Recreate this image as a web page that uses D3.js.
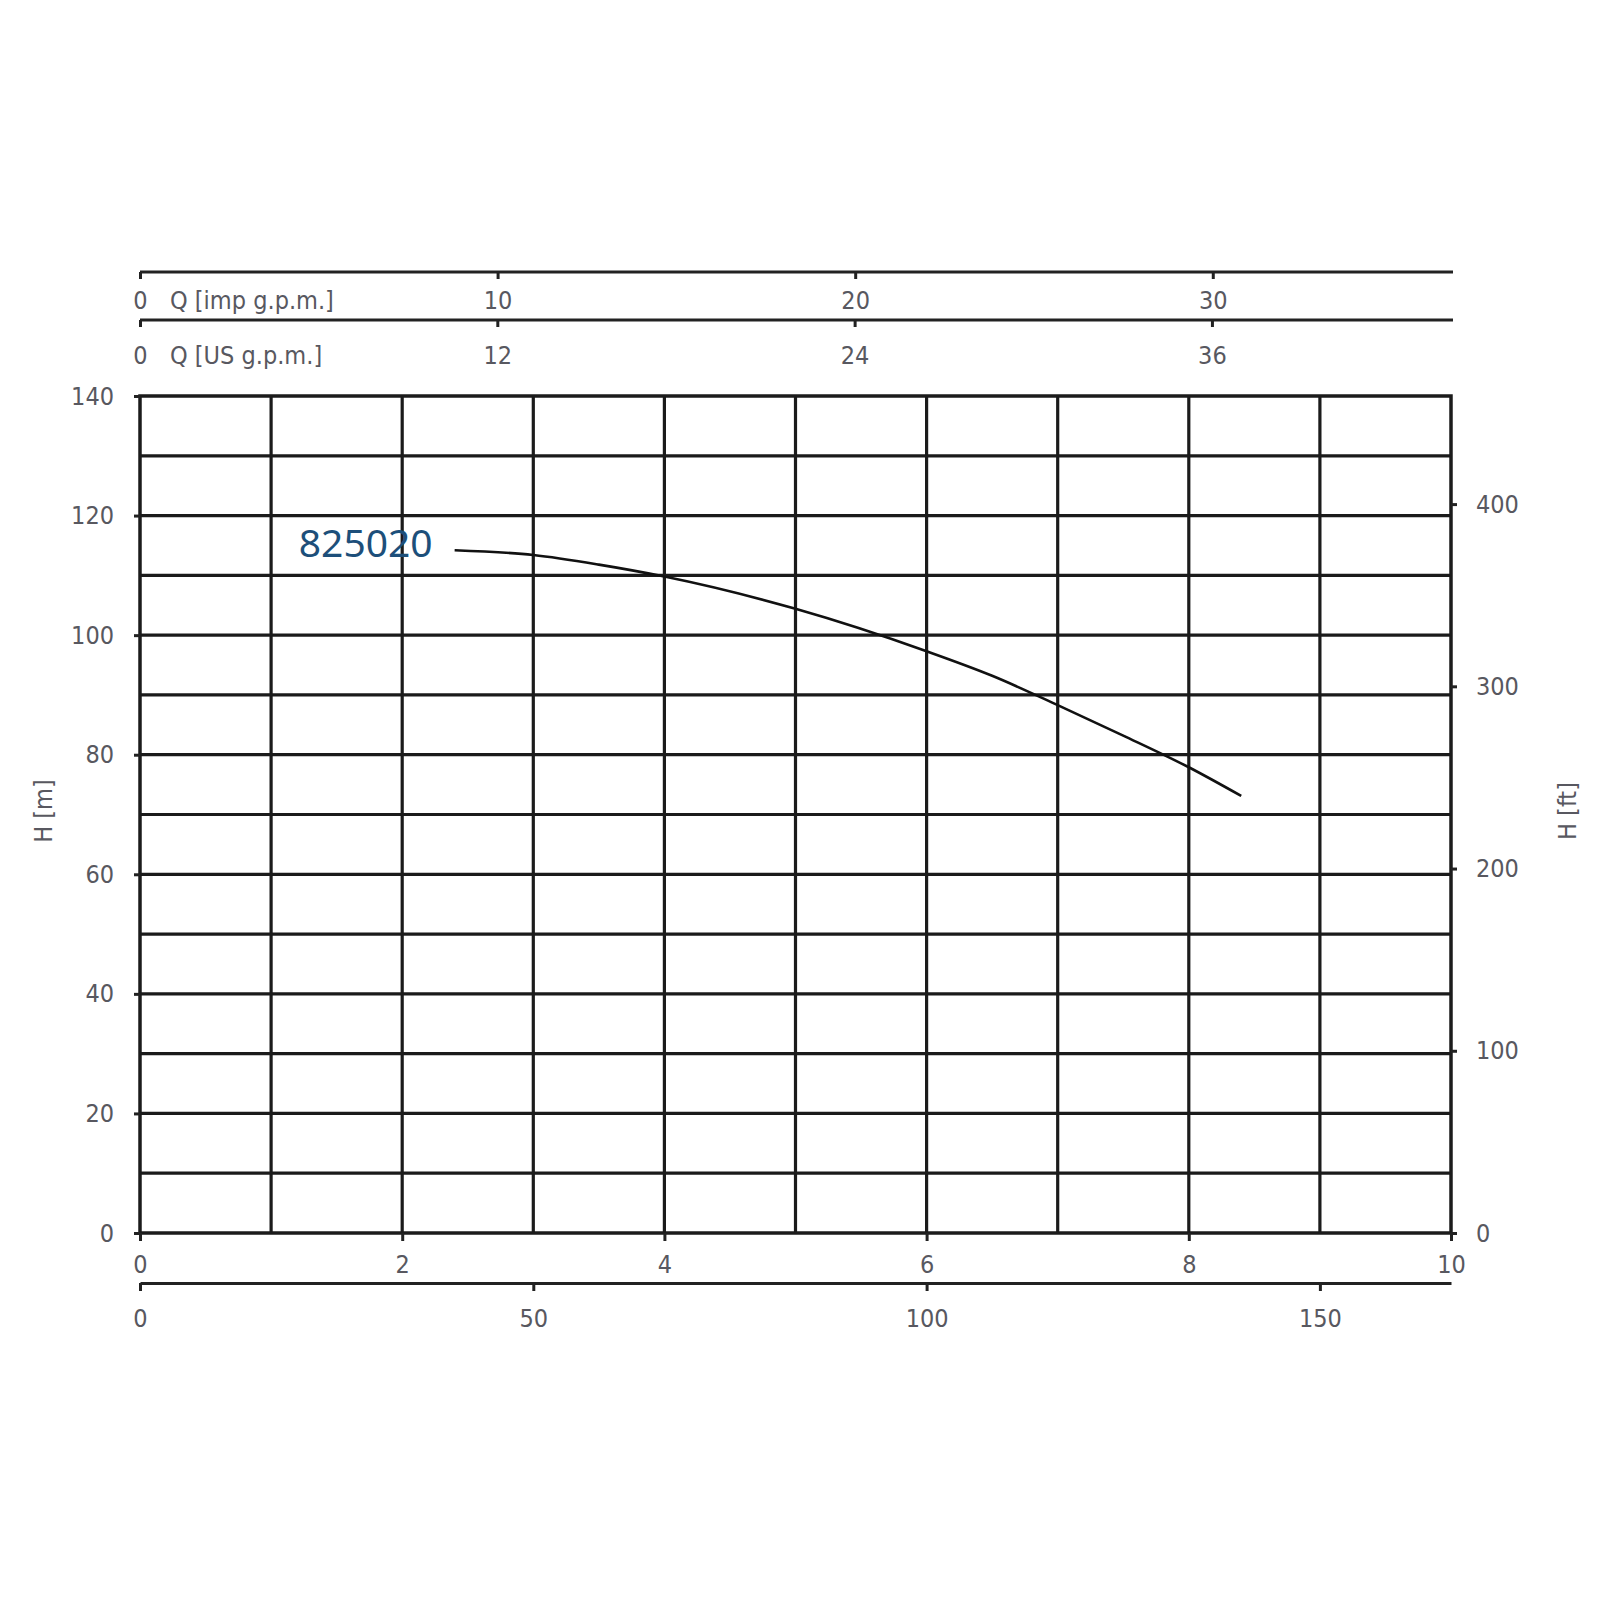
<!DOCTYPE html>
<html lang="en">
<head>
    <meta charset="UTF-8">
    <title>825020 pump curve</title>
    <script src="https://d3js.org/d3.v7.min.js"></script>
    <style>
        body {margin: 0; background: white;}
        .tick text, .lbl {font-family: "DejaVu Sans Condensed", "Liberation Sans", sans-serif; fill: #585860; font-size: 25px;}
        .axis path, .axis line {stroke: #222; stroke-width: 3;}
        .grid line {stroke: #1b1b1b; stroke-width: 3.2;}
        .frame {fill: none; stroke: #1b1b1b; stroke-width: 3.5;}
        .curve {fill: none; stroke: #111; stroke-width: 2.6;}
        .model {font-family: "Noto Sans", "Open Sans", sans-serif; font-size: 39px; fill: #1d4f7a;}
    </style>
</head>
<body>
<script>
    const width = 1600;
    const height = 1600;

    // Q in m3/h, H in m
    const flowM3h = [2.40, 3, 3.5, 4, 5, 6, 6.5, 7, 7.5, 8, 8.4];
    const headM = [114.2, 113.4, 111.8, 109.8, 104.4, 97.3, 93.2, 88.3, 83.2, 77.9, 73.1];
    const modelName = "825020";

    const qTicks = [0, 2, 4, 6, 8, 10];
    const hTicks = [0, 20, 40, 60, 80, 100, 120, 140];
    const lpmTicks = [0, 50, 100, 150];
    const impTicks = [0, 10, 20, 30];
    const usTicks = [0, 12, 24, 36];
    const ftTicks = [0, 100, 200, 300, 400];

    // unit conversions from m3/h and m
    const M3H_TO_LPM = 1000 / 60;
    const M3H_TO_IMP = 3.6662;
    const M3H_TO_US = 4.4029;
    const M_TO_FT = 3.28084;

    const plotLeft = 140, plotRight = 1451, plotTop = 396, plotBottom = 1233;
    const qMax = 10, hMax = 140;

    const x = d3.scaleLinear().domain([0, qMax]).range([plotLeft, plotRight]);
    const y = d3.scaleLinear().domain([0, hMax]).range([plotBottom, plotTop]);
    const xLpm = d3.scaleLinear().domain([0, qMax * M3H_TO_LPM]).range([plotLeft, plotRight]);
    const xImp = d3.scaleLinear().domain([0, qMax * M3H_TO_IMP]).range([plotLeft, plotRight]);
    const xUs = d3.scaleLinear().domain([0, qMax * M3H_TO_US]).range([plotLeft, plotRight]);
    const yFt = d3.scaleLinear().domain([0, hMax * M_TO_FT]).range([plotBottom, plotTop]);

    const svg = d3.select("body").append("svg")
            .attr("width", width).attr("height", height);

    // grid
    const grid = svg.append("g").attr("class", "grid");
    grid.selectAll("line.v")
            .data(d3.range(1, qMax)).enter()
            .append("line").attr("class", "v")
            .attr("x1", d => x(d)).attr("x2", d => x(d))
            .attr("y1", plotTop).attr("y2", plotBottom);
    grid.selectAll("line.h")
            .data(d3.range(10, hMax, 10)).enter()
            .append("line").attr("class", "h")
            .attr("x1", plotLeft).attr("x2", plotRight)
            .attr("y1", d => y(d)).attr("y2", d => y(d));

    svg.append("rect").attr("class", "frame")
            .attr("x", plotLeft).attr("y", plotTop)
            .attr("width", plotRight - plotLeft).attr("height", plotBottom - plotTop);

    // left axis H [m]
    const yAxis = svg.append("g").attr("class", "axis")
            .attr("transform", `translate(${plotLeft},0)`)
            .call(d3.axisLeft(y).tickValues(hTicks).tickSize(6).tickSizeOuter(0).tickPadding(20));
    yAxis.select(".domain").remove();

    // right axis H [ft]
    const ftAxis = svg.append("g").attr("class", "axis")
            .attr("transform", `translate(${plotRight},0)`)
            .call(d3.axisRight(yFt).tickValues(ftTicks).tickSize(6).tickSizeOuter(0).tickPadding(19));
    ftAxis.select(".domain").remove();

    // bottom axis Q [m3/h]
    const qAxis = svg.append("g").attr("class", "axis")
            .attr("transform", `translate(0,${plotBottom})`)
            .call(d3.axisBottom(x).tickValues(qTicks).tickSize(8).tickSizeOuter(0).tickPadding(14));
    qAxis.select(".domain").remove();

    // second bottom axis Q [l/min]
    svg.append("g").attr("class", "axis")
            .attr("transform", `translate(0,1283)`)
            .call(d3.axisBottom(xLpm).tickValues(lpmTicks).tickSize(8).tickSizeOuter(0).tickPadding(18));

    // top axes Q [imp g.p.m.] and Q [US g.p.m.]
    function topAxis(scale, ticks, yPos, pad, label) {
        const g = svg.append("g").attr("class", "axis")
                .attr("transform", `translate(0,${yPos})`)
                .call(d3.axisBottom(scale).tickValues(ticks).tickSize(7).tickSizeOuter(0).tickPadding(pad));
        g.select(".domain").attr("d", `M${plotLeft},0H${plotRight + 2}`);
        g.append("text").attr("class", "lbl")
                .attr("text-anchor", "start")
                .attr("x", 170).attr("y", 7 + pad).attr("dy", "0.71em")
                .text(label);
    }
    topAxis(xImp, impTicks, 272, 12, "Q [imp g.p.m.]");
    topAxis(xUs, usTicks, 320, 19, "Q [US g.p.m.]");

    // axis titles
    svg.append("text").attr("class", "lbl")
            .attr("transform", `translate(52,811) rotate(-90)`)
            .attr("text-anchor", "middle")
            .text("H [m]");
    svg.append("text").attr("class", "lbl")
            .attr("transform", `translate(1576,811) rotate(-90)`)
            .attr("text-anchor", "middle")
            .text("H [ft]");

    // pump curve
    const points = flowM3h.map((q, i) => [q, headM[i]]);
    const line = d3.line()
            .x(d => x(d[0])).y(d => y(d[1]))
            .curve(d3.curveMonotoneX);
    svg.append("path").attr("class", "curve")
            .datum(points)
            .attr("d", line);

    svg.append("text").attr("class", "model")
            .attr("x", x(flowM3h[0]) - 22).attr("y", y(headM[0]) + 7)
            .attr("text-anchor", "end")
            .text(modelName);
</script>
</body>
</html>
